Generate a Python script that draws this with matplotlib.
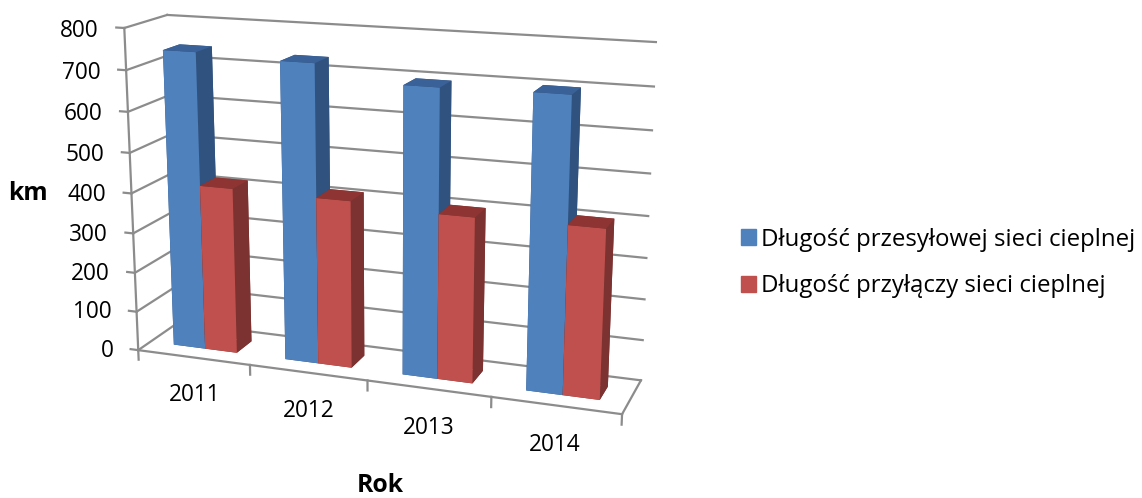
import numpy as np
import matplotlib
matplotlib.use("Agg")
import matplotlib.pyplot as plt
from matplotlib.patches import Patch
from mpl_toolkits.mplot3d import proj3d

plt.rcParams["font.family"] = ["Open Sans", "DejaVu Sans"]

# Data
years = ["2011", "2012", "2013", "2014"]
przesylowa = [741, 733, 696, 700]
przylacza = [416, 413, 402, 405]
series_names = ["Długość przesyłowej sieci cieplnej", "Długość przyłączy sieci cieplnej"]
z_ticks = [0, 100, 200, 300, 400, 500, 600, 700, 800]

# Colours: front, side, top
blue = ["#4F81BD", "#30527F", "#3A6298"]
red = ["#C0504D", "#7B3230", "#8E3533"]
grid_col = "#8C8C8C"
grid_lw = 1.6

W, H = 1142, 498
fig = plt.figure(figsize=(W/100, H/100), dpi=100)

# Axes and camera found by fitting the box corners to the picture
S, L, T = 607.1, 71.3, -90.9
ax = fig.add_axes([L/W, 1-(T+S)/H, S/W, S/H], projection="3d")
n = len(years)
ax.set_xlim(0, n)
ax.set_ylim(0, 1)
ax.set_zlim(0, 800)
ax.view_init(elev=15.225, azim=-70.178, roll=0.044)
ax.set_proj_type("persp", focal_length=np.exp(-0.713))
ax.set_box_aspect((1, 0.18, 0.663))
ax.set_xticks([])
ax.set_yticks([])
ax.set_zticks([])
ax.set_axis_off()
ax.computed_zorder = False
ax.patch.set_alpha(0)

def label(x, y, z, s, ha):
    # plain 2D text at the projected spot of a 3D point
    xp, yp, _ = proj3d.proj_transform(x, y, z, ax.get_proj())
    ax.text2D(xp, yp, s, transform=ax.transData, ha=ha, va="center", fontsize=16.3, color="black")

# Walls and floor
for z in z_ticks:
    ax.plot([0, 0], [0, 1], [z, z], color=grid_col, lw=grid_lw, zorder=1)
    ax.plot([0, n], [1, 1], [z, z], color=grid_col, lw=grid_lw, zorder=1)
    ax.plot([-0.07, 0], [0, 0], [z, z], color=grid_col, lw=grid_lw, zorder=1)
    label(-0.23, 0, z-10, str(z), "right")
ax.plot([0, 0], [0, 0], [0, 800], color=grid_col, lw=grid_lw, zorder=1)
ax.plot([0, n], [0, 0], [0, 0], color=grid_col, lw=grid_lw, zorder=1)
ax.plot([n, n], [0, 1], [0, 0], color=grid_col, lw=grid_lw, zorder=1)
for i in range(n + 1):
    ax.plot([i, i], [0, 0], [-25, 0], color=grid_col, lw=grid_lw, zorder=1)

# Bars: gap width 150%, gap depth 150%
bar_w = 1/3.5
margin = 0.75/3.5
depth_start = 0.3
bar_d = 0.4

def faces(c):
    # -z, +z, -y, +y, -x, +x
    return [c[1], c[2], c[0], c[1], c[1], c[1]]

order = 2
for i in range(n):
    ax.bar3d(i+margin, depth_start, 0, bar_w, bar_d, przesylowa[i], color=faces(blue),
             shade=False, edgecolor="none", linewidth=0, zorder=order)
    ax.bar3d(i+margin+bar_w, depth_start, 0, bar_w, bar_d, przylacza[i], color=faces(red),
             shade=False, edgecolor="none", linewidth=0, zorder=order+1)
    label(i+0.5, 0, -97, years[i], "center")
    order += 2

fig.text(27.5/W, 1-193/H, "km", ha="center", va="center", fontsize=17.8, fontweight="bold")
fig.text(380.5/W, 1-485.5/H, "Rok", ha="center", va="center", fontsize=17.8, fontweight="bold")

handles = [Patch(color=blue[0]), Patch(color=red[0])]
fig.legend(handles, series_names, loc="center left", bbox_to_anchor=(741/W, 1-263/H),
           frameon=False, fontsize=17.25, handlelength=0.63, handleheight=0.63,
           handletextpad=0.2, labelspacing=0.95, borderpad=0, borderaxespad=0)

fig.savefig("out.png", dpi=100)
